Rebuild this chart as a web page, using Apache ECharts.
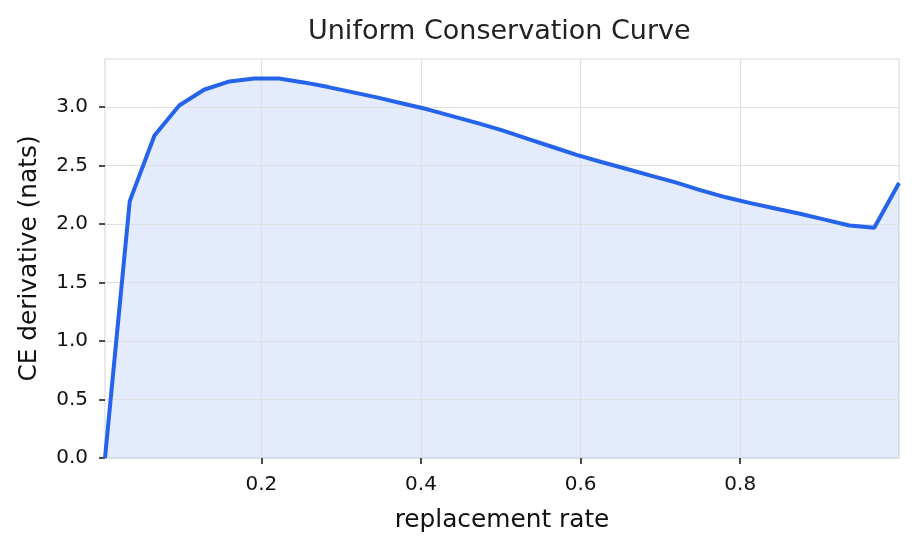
<!DOCTYPE html>
<html>
<head>
<meta charset="utf-8">
<script src="https://cdn.jsdelivr.net/npm/echarts@6/dist/echarts.min.js"></script>
<style>
    html, body, #main {
        width: 100%;
        height: 100%;
        margin: 0;
        background: #ffffff;
    }
</style>
</head>
<body>
<div id="main"></div>
<script>
    var rates = [0.004, 0.035, 0.066, 0.097, 0.128, 0.160, 0.191, 0.222, 0.253, 0.284,
                 0.315, 0.346, 0.377, 0.408, 0.439, 0.471, 0.502, 0.533, 0.564, 0.595,
                 0.626, 0.657, 0.688, 0.719, 0.750, 0.782, 0.813, 0.844, 0.875, 0.906,
                 0.937, 0.968, 0.999];
    var derivs = [0.0, 2.195, 2.756, 3.013, 3.147, 3.218, 3.244, 3.244, 3.21, 3.17,
                  3.125, 3.08, 3.03, 2.98, 2.922, 2.862, 2.80, 2.73, 2.66, 2.59,
                  2.53, 2.472, 2.413, 2.355, 2.29, 2.228, 2.178, 2.133, 2.088, 2.037,
                  1.987, 1.968, 2.35];
    var xTicks = [0.2, 0.4, 0.6, 0.8];
    var yTicks = [0, 0.5, 1.0, 1.5, 2.0, 2.5, 3.0];

    var font = 'DejaVu Sans';
    var chart = echarts.init(document.getElementById('main'));

    var points = [];
    for (var i = 0; i < rates.length; i++) {
        points.push([rates[i], derivs[i]]);
    }

    chart.setOption({
        animation: false,
        title: {
            text: 'Uniform Conservation Curve',
            left: 308,
            top: 18,
            padding: 0,
            textStyle: {
                fontFamily: font,
                fontSize: 27,
                fontWeight: 'normal',
                color: '#222222'
            }
        },
        grid: {
            left: 105,
            right: 17,
            top: 59,
            bottom: 92,
            show: true,
            borderColor: '#d8dcdc',
            borderWidth: 1.2
        },
        xAxis: {
            type: 'value',
            z: 2,
            min: 0.004,
            max: 0.999,
            name: 'replacement rate',
            nameLocation: 'middle',
            nameGap: 50,
            nameTextStyle: { fontFamily: font, fontSize: 24.8, color: '#111111' },
            axisLine: { show: false },
            axisTick: {
                show: true,
                length: 6,
                customValues: xTicks,
                lineStyle: { color: '#111111', width: 1.5 }
            },
            axisLabel: {
                customValues: xTicks,
                margin: 17,
                fontFamily: font,
                fontSize: 20,
                color: '#111111',
                formatter: function (v) { return v.toFixed(1); }
            },
            splitLine: { show: true, lineStyle: { color: '#dde1e1', width: 1.2 } }
        },
        yAxis: {
            type: 'value',
            z: 2,
            min: 0,
            max: 3.41,
            name: 'CE derivative (nats)',
            nameLocation: 'middle',
            nameGap: 63,
            nameTextStyle: { fontFamily: font, fontSize: 24.8, color: '#111111' },
            axisLine: { show: false },
            axisTick: {
                show: true,
                length: 6,
                customValues: yTicks,
                lineStyle: { color: '#111111', width: 1.5 }
            },
            axisLabel: {
                customValues: yTicks,
                margin: 17,
                fontFamily: font,
                fontSize: 20,
                color: '#111111',
                formatter: function (v) { return v.toFixed(1); }
            },
            splitLine: { show: true, lineStyle: { color: '#dde1e1', width: 1.2 } }
        },
        series: [
            {
                // fill under the curve, kept below the grid lines
                type: 'line',
                z: 1,
                data: points,
                showSymbol: false,
                lineStyle: { width: 0 },
                areaStyle: { color: 'rgba(37, 99, 235, 0.125)', opacity: 1, origin: 'start' }
            },
            {
                type: 'line',
                z: 3,
                data: points,
                showSymbol: false,
                lineStyle: { color: '#2563eb', width: 4 },
                itemStyle: { color: '#2563eb' }
            }
        ]
    });
</script>
</body>
</html>
